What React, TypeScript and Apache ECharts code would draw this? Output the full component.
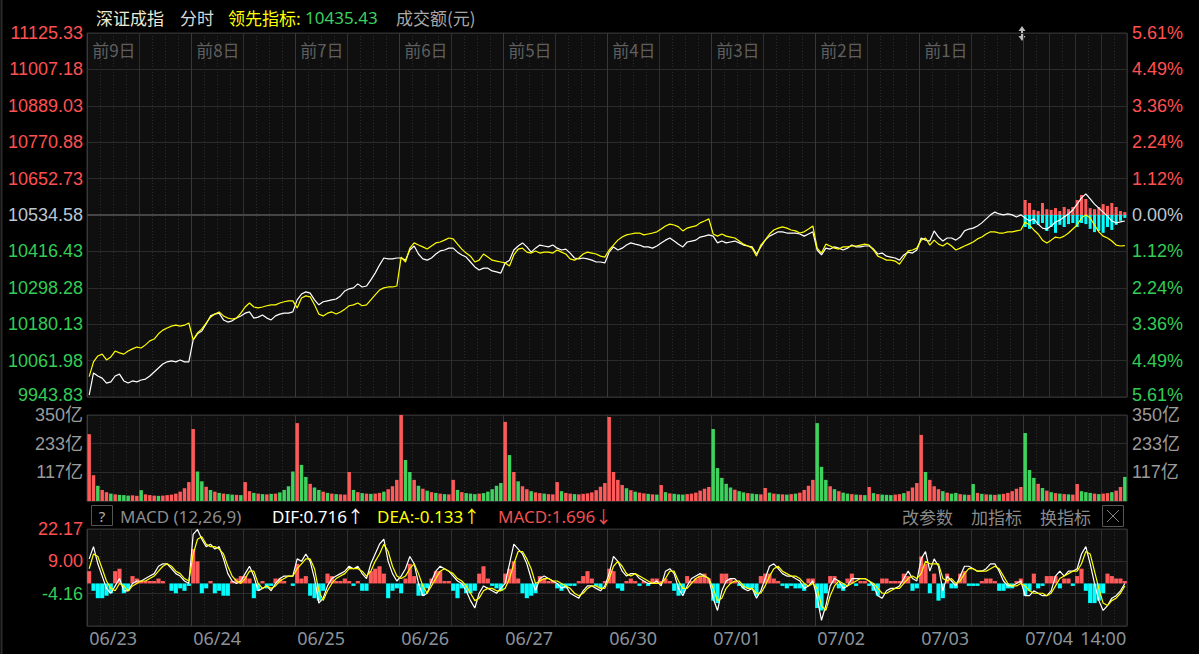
import React, { useEffect, useRef } from 'react';
import * as echarts from 'echarts';

// ---------------- data ----------------
const days = ['06/23', '06/24', '06/25', '06/26', '06/27', '06/30', '07/01', '07/02', '07/03', '07/04'];
const dayTags = ['前9日', '前8日', '前7日', '前6日', '前5日', '前4日', '前3日', '前2日', '前1日', ''];
const SLOTS = 24; // 10-minute samples per trading day
const todayTimeLabel = '14:00';
const todayTimeSlot = 18;

const prevClose = 10534.58;
const priceTicks = [9943.83, 10061.98, 10180.13, 10298.28, 10416.43, 10534.58, 10652.73, 10770.88, 10889.03, 11007.18, 11125.33];
const pctTicks = ['5.61%', '4.49%', '3.36%', '2.24%', '1.12%', '0.00%', '1.12%', '2.24%', '3.36%', '4.49%', '5.61%'];
const volTickValues = [0, 350 / 3, 700 / 3, 350];
const volTickLabels = ['', '117亿', '233亿', '350亿'];
const macdTickValues = [-17.33, -4.16, 9.0, 22.17];
const macdTickLabels = ['', '-4.16', '9.00', '22.17'];

// 深证成指 (white)
const indexLine: number[][] = [
  [9950, 10022, 10012, 10005, 9989, 9993, 10012, 10018, 9996, 9989, 9996, 9993, 9999, 10002, 10012, 10025, 10038, 10051, 10058, 10061, 10058, 10064, 10058, 10058],
  [10129, 10149, 10158, 10181, 10207, 10213, 10216, 10194, 10187, 10191, 10200, 10207, 10216, 10220, 10200, 10203, 10210, 10200, 10194, 10207, 10213, 10216, 10216, 10220],
  [10259, 10278, 10285, 10281, 10259, 10243, 10253, 10256, 10259, 10262, 10272, 10288, 10295, 10298, 10311, 10301, 10304, 10324, 10346, 10372, 10395, 10392, 10392, 10395],
  [10395, 10388, 10421, 10434, 10408, 10392, 10388, 10395, 10408, 10418, 10421, 10427, 10427, 10414, 10405, 10398, 10382, 10366, 10356, 10362, 10362, 10353, 10350, 10346],
  [10379, 10388, 10421, 10434, 10444, 10431, 10414, 10427, 10437, 10434, 10431, 10437, 10427, 10421, 10424, 10411, 10395, 10392, 10395, 10392, 10388, 10382, 10382, 10379],
  [10414, 10431, 10421, 10427, 10437, 10444, 10440, 10437, 10431, 10431, 10427, 10434, 10444, 10453, 10460, 10450, 10440, 10431, 10447, 10450, 10453, 10463, 10466, 10470],
  [10466, 10444, 10450, 10444, 10447, 10450, 10444, 10437, 10434, 10431, 10408, 10431, 10453, 10466, 10473, 10480, 10480, 10476, 10476, 10476, 10473, 10466, 10473, 10480],
  [10421, 10405, 10427, 10424, 10431, 10427, 10421, 10427, 10437, 10431, 10431, 10434, 10434, 10424, 10408, 10411, 10401, 10398, 10395, 10388, 10405, 10414, 10411, 10421],
  [10460, 10453, 10450, 10483, 10463, 10450, 10460, 10460, 10453, 10463, 10483, 10489, 10492, 10499, 10509, 10522, 10535, 10544, 10538, 10535, 10538, 10535, 10528, 10535],
  [10525, 10515, 10522, 10505, 10492, 10489, 10499, 10512, 10518, 10528, 10538, 10551, 10570, 10590, 10603, 10587, 10570, 10557, 10544, 10531, 10515, 10509, 10512, 10515],
];

// 领先指标 (yellow)
const leadLine: number[][] = [
  [10010, 10058, 10077, 10083, 10064, 10074, 10093, 10087, 10083, 10093, 10100, 10106, 10103, 10113, 10126, 10132, 10149, 10161, 10168, 10174, 10177, 10174, 10177, 10184],
  [10129, 10152, 10165, 10184, 10203, 10213, 10220, 10207, 10200, 10197, 10200, 10216, 10236, 10249, 10236, 10233, 10236, 10240, 10243, 10243, 10249, 10253, 10256, 10256],
  [10233, 10265, 10272, 10269, 10243, 10213, 10207, 10216, 10220, 10213, 10220, 10229, 10240, 10243, 10249, 10240, 10243, 10259, 10275, 10291, 10298, 10301, 10301, 10304],
  [10398, 10382, 10427, 10444, 10437, 10431, 10424, 10434, 10444, 10447, 10453, 10460, 10457, 10440, 10424, 10411, 10401, 10382, 10388, 10408, 10398, 10388, 10385, 10382],
  [10379, 10369, 10405, 10424, 10427, 10414, 10411, 10418, 10411, 10414, 10414, 10411, 10421, 10414, 10408, 10392, 10388, 10395, 10408, 10414, 10411, 10408, 10401, 10398],
  [10421, 10437, 10453, 10463, 10470, 10473, 10476, 10476, 10470, 10473, 10476, 10480, 10489, 10499, 10505, 10502, 10496, 10483, 10492, 10496, 10499, 10509, 10515, 10522],
  [10473, 10466, 10473, 10466, 10463, 10460, 10450, 10440, 10434, 10427, 10401, 10437, 10453, 10473, 10486, 10492, 10496, 10492, 10486, 10483, 10476, 10480, 10489, 10499],
  [10427, 10411, 10440, 10434, 10427, 10424, 10431, 10431, 10434, 10434, 10437, 10440, 10437, 10421, 10401, 10395, 10388, 10388, 10385, 10375, 10395, 10418, 10421, 10427],
  [10453, 10460, 10437, 10453, 10440, 10434, 10444, 10434, 10421, 10427, 10434, 10440, 10447, 10457, 10463, 10473, 10480, 10480, 10476, 10476, 10480, 10480, 10483, 10486],
  [10512, 10502, 10486, 10473, 10453, 10444, 10453, 10463, 10460, 10466, 10476, 10489, 10502, 10525, 10535, 10525, 10502, 10480, 10466, 10460, 10450, 10437, 10434, 10435],
];

// today's red / cyan breadth bars around the 0% line
const todayUp = [4.1, 3.3, 1.4, 1.1, 3.3, 1.6, 1.4, 1.9, 1.1, 2.2, 1.6, 2.2, 4.1, 5.5, 4.4, 1.9, 1.6, 2.2, 3.0, 2.5, 3.3, 2.2, 1.1, 0.8];
const todayDown = [3.3, 3.8, 2.5, 2.7, 2.2, 4.4, 3.3, 4.9, 2.7, 3.3, 2.5, 2.2, 3.3, 2.2, 2.5, 3.8, 4.7, 4.4, 4.9, 3.3, 4.1, 2.7, 1.6, 0.8];

// 成交额 (亿)
const volume: number[][] = [
  [272, 105, 62, 45, 36, 30, 27, 25, 24, 22, 23, 21, 44, 27, 24, 22, 21, 22, 24, 26, 30, 38, 52, 77],
  [293, 120, 80, 58, 45, 38, 33, 30, 28, 26, 25, 24, 77, 40, 33, 30, 28, 27, 29, 30, 35, 45, 60, 120],
  [317, 147, 98, 70, 55, 45, 38, 33, 30, 28, 27, 26, 118, 45, 36, 32, 30, 29, 30, 33, 38, 48, 60, 86],
  [350, 167, 118, 86, 62, 50, 42, 36, 33, 30, 28, 27, 86, 45, 36, 32, 30, 28, 30, 32, 38, 48, 62, 73],
  [322, 187, 118, 80, 60, 48, 40, 35, 32, 30, 28, 27, 77, 40, 33, 30, 28, 27, 29, 31, 35, 44, 58, 73],
  [342, 118, 86, 65, 52, 44, 38, 34, 31, 29, 27, 26, 65, 36, 31, 29, 27, 26, 28, 30, 34, 42, 50, 57],
  [293, 134, 94, 70, 55, 46, 40, 35, 32, 30, 28, 27, 53, 34, 30, 28, 27, 26, 28, 30, 34, 45, 62, 86],
  [317, 139, 86, 60, 48, 40, 34, 30, 28, 26, 25, 24, 57, 32, 28, 26, 25, 24, 26, 28, 32, 40, 55, 73],
  [269, 118, 86, 60, 48, 40, 34, 30, 33, 28, 26, 25, 69, 33, 29, 27, 26, 25, 27, 29, 33, 40, 50, 57],
  [277, 126, 94, 70, 53, 42, 36, 32, 30, 28, 27, 26, 69, 40, 36, 33, 30, 28, 30, 32, 36, 42, 57, 98],
];
const volumeSide = [
  'rrgrrgrgggrrgrrrgrrrrrrr',
  'rggrgrgrggrgrrgrgrgrgggg',
  'rggrggrgrgrrrgrgrgrrgrrr',
  'rggrgrgrgrgrrgrgggrggggg',
  'rgrgrrgrrgrrrgrrgrrrrrrr',
  'rrrrgrgrrgrgrgrgggrrrrrr',
  'gggggrggrggrrgrgrgrgrrrr',
  'gggrgrggrgrgrgrgggrrgrrr',
  'rgrrrgrggrgrgrgrgrgrrrrr',
  'gggrgrgrgrgrrgggrgrrgrrg',
];

// MACD (12,26,9)
const dif: number[][] = [
  [10, 15, 8, 3, -2, -4, -1, 2, -3, -3, 0, 1, 1, 2, 3, 4, 7, 8, 8, 6, 4, 3, 1, 0],
  [20, 22, 18, 15, 16, 14, 15, 10, 4, 1, 0, 1, 4, 7, 3, -3, -2, -1, -3, 0, 2, 3, 3, 3],
  [10, 9, 12, 9, 2, -8, -6, -1, 2, 3, 4, 5, 7, 6, 7, 4, 2, 8, 12, 16, 18, 9, 4, 1],
  [3, 6, 11, 8, 0, -5, -4, 1, 5, 7, 6, 5, 3, 1, 0, -3, -7, -10, -4, -1, -2, -3, -4, -2],
  [0, 8, 16, 14, 12, 8, 2, -3, 2, 3, 2, 1, 0, -2, -1, -4, -5, -6, -3, -1, -1, -2, -3, -1],
  [4, 11, 9, 5, 3, 4, 4, 2, 1, 0, 0, 1, -1, 5, 6, 4, -2, -5, -1, 2, 3, 4, 3, 2],
  [-6, -11, -3, 1, 2, 2, 0, -2, -3, -2, -6, -3, 2, 7, 8, 6, 4, 3, 3, 2, 1, -2, -1, 1],
  [-6, -15, -9, -1, 2, 1, -2, -1, 2, 2, 2, 2, 1, -1, -5, -6, -3, -2, -2, -1, 2, 5, 2, 1],
  [10, 13, 5, 10, 7, -3, 3, 1, -1, 3, 7, 7, 6, 5, 5, 6, 8, 8, 5, 1, -1, -1, 0, 1],
  [-5, -5, -3, -4, -5, -5, -3, 3, 5, 3, 5, 5, 6, 12, 15, 8, 0, -7, -11, -9, -6, -5, -3, 0],
];
const dea: number[][] = [
  [6, 12, 11, 6, 1, -2, -3, 0, -1, -3, -1, 0, 1, 1, 2, 3, 5, 7, 8, 7, 5, 4, 2, 1],
  [12, 18, 19, 16, 15, 15, 14, 12, 7, 3, 1, 0, 2, 5, 5, 0, -2, -1, -2, -1, 1, 2, 3, 3],
  [6, 8, 10, 10, 6, -3, -7, -3, 0, 2, 3, 4, 6, 6, 6, 5, 3, 5, 9, 12, 16, 13, 7, 3],
  [2, 3, 6, 8, 4, -1, -4, -1, 2, 5, 6, 5, 4, 2, 1, -1, -4, -7, -6, -3, -2, -2, -3, -3],
  [-2, 2, 8, 13, 13, 10, 6, 0, 1, 2, 2, 1, 1, 0, -1, -2, -4, -5, -4, -2, -1, -1, -2, -2],
  [2, 7, 9, 7, 4, 3, 4, 3, 2, 1, 0, 0, 0, 2, 5, 5, 1, -2, -2, 0, 2, 3, 3, 2],
  [-2, -7, -6, -2, 0, 1, 1, -1, -2, -2, -4, -4, -1, 3, 6, 7, 5, 4, 3, 3, 2, 0, -1, 0],
  [-2, -9, -11, -5, -1, 1, 0, -1, 0, 1, 2, 2, 1, 0, -2, -4, -4, -3, -2, -2, 0, 2, 3, 2],
  [4, 9, 8, 8, 8, 2, 1, 2, 0, 1, 4, 6, 6, 5, 5, 5, 6, 7, 6, 3, 0, -1, -1, 0],
  [-1, -3, -4, -4, -4, -5, -4, -1, 2, 3, 4, 5, 5, 8, 13, 12, 5, -2, -8, -9, -7, -6, -4, -1],
];
const macdHist: number[][] = [
  [5, -3, -6, -6, -5, -4, 5, 6, -4, -3, 3, 2, 1, 1, 1, 1, 2, 1, 0, -3, -4, -2, -3, -1],
  [14, 9, -4, -2, 1, -4, -3, -5, -5, 1, 2, 3, 3, 2, -6, -3, 1, -2, -1, 2, 2, 1, 0, -1],
  [8, 2, 3, -5, -6, -7, -3, 4, 3, 1, 1, 2, 1, -1, 1, -3, -3, 5, 6, 7, 4, -6, -3, -2],
  [-4, 2, 8, 3, -5, -5, -2, 2, 5, 5, 1, 1, -3, -6, -2, -4, -4, -3, 4, 7, 2, -1, -2, -3],
  [4, 6, 9, 2, -4, -6, -5, -4, 3, 2, 1, 1, -2, -3, -2, -1, -1, 1, 3, 5, 2, -1, -2, 1],
  [6, 5, -2, -3, 1, 2, 1, -1, 1, -1, 2, 2, 1, 2, 1, -3, -5, -4, 3, 1, 2, 3, 4, 2],
  [-7, -8, 4, 4, 2, 1, -1, -2, -2, -2, -5, 3, 4, 4, 2, 1, -1, -2, -1, -2, -2, -3, 2, 2],
  [-10, -11, -4, 3, 3, -2, -3, 2, 4, -1, 1, 1, -1, -3, -5, 2, 2, 1, 1, 1, 4, 3, -3, -2],
  [11, 8, -4, 4, -7, -6, 4, -2, -2, 4, 5, -1, -1, -1, 1, 2, 2, 1, -3, -3, -2, -2, 1, 2],
  [-5, -3, 4, -2, -1, 3, 3, 3, -2, 2, 2, -1, 3, 6, -3, -8, -8, -7, -4, 4, 3, 2, 2, 1],
];

const titleParts = [
  { text: '深证成指', color: '#ecead2' },
  { text: '分时', color: '#d8d8d8' },
  { text: '领先指标:', color: '#ffff00' },
  { text: '10435.43', color: '#3ccf5c' },
  { text: '成交额(元)', color: '#a8a8a8' },
];
const macdInfo = { name: 'MACD (12,26,9)', dif: 'DIF:0.716↑', dea: 'DEA:-0.133↑', macd: 'MACD:1.696↓' };
const toolButtons = ['改参数', '加指标', '换指标'];

// ---------------- styles ----------------
const FONT = '"Noto Sans", "Noto Sans CJK SC", sans-serif';
const NUM = '"Liberation Sans", "Noto Sans CJK SC", sans-serif';
const CJK = '"Noto Sans CJK SC", "Noto Sans", sans-serif';
const RED = '#ff5050';
const RED_BAR = '#ff5a5a';
const GREEN = '#33cc55';
const GREEN_BAR = '#3ed35e';
const CYAN = '#00ffff';
const BASE_TXT = '#bcc6d0';

const nearest = (arr: number[], v: number) => {
  let bi = 0;
  arr.forEach((a, i) => {
    if (Math.abs(a - v) < Math.abs(arr[bi] - v)) bi = i;
  });
  return bi;
};

function buildOption() {
  const nDays = days.length;
  const cats = days.flatMap((d) => Array.from({ length: SLOTS }, (_, j) => `${d}-${j}`));
  const lastDay = nDays - 1;

  const isDay = (i: number) => i % SLOTS === 0;
  const isMid = (i: number) => {
    const d = Math.floor(i / SLOTS);
    const j = i % SLOTS;
    if (j === 0) return false;
    return d === lastDay ? j % 6 === 0 : j === SLOTS / 2;
  };
  const isDot = (i: number) => i % 3 === 0 && !isDay(i) && !isMid(i);

  const lineStyles: any = {
    day: { color: '#383838', width: 1 },
    mid: { color: '#2e2e2e', width: 1 },
    dot: { color: '#2c2c2c', width: 1, type: [1, 2] },
  };
  const fns: any = { day: isDay, mid: isMid, dot: isDot };

  const mkX = (grid: number, kind: string, extra: any = {}) => ({
    type: 'category',
    gridIndex: grid,
    data: cats,
    boundaryGap: true,
    position: 'bottom',
    axisLine: { show: false },
    axisTick: { show: false },
    axisLabel: { show: false },
    splitLine: { show: true, interval: fns[kind], lineStyle: lineStyles[kind] },
    ...extra,
  });

  const xAxis = [
    mkX(0, 'day', {
      position: 'top',
      axisLabel: {
        show: true,
        inside: true,
        interval: (i: number) => i % SLOTS === 0 && dayTags[Math.floor(i / SLOTS)] !== '',
        formatter: (_v: string, i: number) => dayTags[Math.floor(i / SLOTS)],
        align: 'left',
        color: '#5f5f5f',
        fontSize: 17,
        fontFamily: CJK,
        margin: 8,
        padding: [0, 0, 0, 3],
      },
    }),
    mkX(0, 'mid'),
    mkX(0, 'dot'),
    mkX(1, 'day'),
    mkX(1, 'mid'),
    mkX(1, 'dot'),
    mkX(2, 'day', {
      axisLabel: {
        show: true,
        interval: (i: number) => i % SLOTS === 0,
        formatter: (_v: string, i: number) => days[Math.floor(i / SLOTS)],
        align: 'left',
        color: '#8b939b',
        fontSize: 18,
        fontFamily: FONT,
        margin: 3,
      },
    }),
    mkX(2, 'mid', {
      axisLabel: {
        show: true,
        interval: (i: number) => i === lastDay * SLOTS + todayTimeSlot,
        formatter: () => todayTimeLabel,
        align: 'center',
        color: '#8b939b',
        fontSize: 18,
        fontFamily: FONT,
        margin: 3,
      },
    }),
    mkX(2, 'dot'),
  ];

  const priceColor = (v: any) => {
    const i = nearest(priceTicks, Number(v));
    return i > 5 ? RED : i < 5 ? GREEN : BASE_TXT;
  };
  const hSplit = { show: true, lineStyle: { color: '#2b2b2b', width: 1 } };
  const noAxis = { axisLine: { show: false }, axisTick: { show: false } };
  const priceInterval = priceTicks[1] - priceTicks[0];
  const lbl = { fontSize: 18, fontFamily: NUM };
  // the lowest price label sits a touch above its grid line (as in the reference)
  const lowRich = { lo: { padding: [0, 0, 4, 0], fontSize: 18, fontFamily: NUM } };
  const priceText = (arr: string[]) => (v: number) => {
    const i = nearest(priceTicks, v);
    return i === 0 ? `{lo|${arr[i]}}` : arr[i];
  };
  const priceStr = priceTicks.map((p) => p.toFixed(2));

  const yAxis: any[] = [
    {
      type: 'value', gridIndex: 0, position: 'left', min: priceTicks[0], max: priceTicks[priceTicks.length - 1],
      interval: priceInterval, ...noAxis, splitLine: hSplit,
      axisLabel: { ...lbl, margin: 4, formatter: priceText(priceStr), color: priceColor, rich: lowRich },
    },
    {
      type: 'value', gridIndex: 0, position: 'right', min: priceTicks[0], max: priceTicks[priceTicks.length - 1],
      interval: priceInterval, ...noAxis, splitLine: { show: false },
      axisLabel: { ...lbl, margin: 5, formatter: priceText(pctTicks), color: priceColor, rich: lowRich },
    },
    { type: 'value', gridIndex: 0, min: -50, max: 50, show: false },
    {
      type: 'value', gridIndex: 1, position: 'left', min: 0, max: 350, interval: 350 / 3, ...noAxis, splitLine: hSplit,
      axisLabel: { ...lbl, margin: 4, padding: [4, 0, 0, 0], color: '#9a9a9a', formatter: (v: number) => volTickLabels[nearest(volTickValues, v)] },
    },
    {
      type: 'value', gridIndex: 1, position: 'right', min: 0, max: 350, interval: 350 / 3, ...noAxis, splitLine: { show: false },
      axisLabel: { ...lbl, margin: 5, padding: [4, 0, 0, 0], color: '#9a9a9a', formatter: (v: number) => volTickLabels[nearest(volTickValues, v)] },
    },
    {
      type: 'value', gridIndex: 2, position: 'left', min: macdTickValues[0], max: macdTickValues[3],
      interval: macdTickValues[1] - macdTickValues[0], ...noAxis, splitLine: hSplit,
      axisLabel: {
        ...lbl, margin: 4,
        formatter: (v: number) => macdTickLabels[nearest(macdTickValues, v)],
        color: (v: any) => (Number(v) > 0 ? RED : GREEN),
      },
    },
  ];

  const gridCommon = { left: 87, right: 72, show: true, backgroundColor: '#0f0f0f', borderColor: '#333', borderWidth: 1 };
  const grid = [
    { ...gridCommon, top: 33, height: 364 },
    { ...gridCommon, top: 415, height: 86 },
    { ...gridCommon, top: 529, height: 97 },
  ];

  const todayMask = (arr: number[], sign: number) =>
    cats.map((_, i) => (Math.floor(i / SLOTS) === lastDay ? sign * arr[i % SLOTS] : '-'));

  const sides = volumeSide.join('');
  const volData = volume.flat().map((v, i) => ({ value: v, itemStyle: { color: sides[i] === 'r' ? RED_BAR : GREEN_BAR } }));
  const histData = macdHist.flat().map((v) => ({ value: v, itemStyle: { color: v >= 0 ? RED_BAR : CYAN } }));

  const series: any[] = [
    { type: 'bar', name: 'up', xAxisIndex: 0, yAxisIndex: 2, data: todayMask(todayUp, 1), barWidth: 3, barGap: '-100%', itemStyle: { color: RED_BAR }, z: 2 },
    { type: 'bar', name: 'down', xAxisIndex: 0, yAxisIndex: 2, data: todayMask(todayDown, -1), barWidth: 3, barGap: '-100%', itemStyle: { color: CYAN }, z: 2 },
    {
      type: 'line', name: '深证成指', xAxisIndex: 0, yAxisIndex: 0, data: indexLine.flat(), symbol: 'none',
      lineStyle: { color: '#ffffff', width: 1.2 }, z: 4,
      markLine: {
        silent: true, symbol: ['none', 'none'], label: { show: false },
        lineStyle: { color: '#454545', width: 2, type: 'solid' },
        data: [{ yAxis: prevClose }], z: 1,
      },
    },
    { type: 'line', name: '领先指标', xAxisIndex: 0, yAxisIndex: 0, data: leadLine.flat(), symbol: 'none', lineStyle: { color: '#ffff00', width: 1.2 }, z: 5 },
    { type: 'bar', name: '成交额', xAxisIndex: 3, yAxisIndex: 3, data: volData, barCategoryGap: '20%' },
    { type: 'bar', name: 'MACD', xAxisIndex: 6, yAxisIndex: 5, data: histData, barCategoryGap: '5%' },
    { type: 'line', name: 'DIF', xAxisIndex: 6, yAxisIndex: 5, data: dif.flat(), symbol: 'none', lineStyle: { color: '#ffffff', width: 1.2 }, z: 4 },
    { type: 'line', name: 'DEA', xAxisIndex: 6, yAxisIndex: 5, data: dea.flat(), symbol: 'none', lineStyle: { color: '#ffff00', width: 1.2 }, z: 5 },
  ];

  const txt = (x: number, y: number, text: string, fill: string, size = 17, align = 'left', family = CJK) => ({
    type: 'text', x, y, silent: true,
    style: { text, fill, font: `${size}px ${family}`, align, verticalAlign: 'middle' },
  });

  const titleX = [96, 180, 228, 305, 396];
  const graphic: any[] = [
    { type: 'line', shape: { x1: 1.5, y1: 0, x2: 1.5, y2: 654 }, style: { stroke: '#2a2a2a', lineWidth: 2 } },
    ...titleParts.map((p, i) => txt(titleX[i], 17, p.text, p.color, 17, 'left', i === 3 ? FONT : CJK)),
    // MACD header
    { type: 'rect', shape: { x: 91.5, y: 505.5, width: 21, height: 20 }, style: { fill: 'none', stroke: '#555', lineWidth: 1 } },
    txt(102, 516, '?', '#b0b0b0', 15, 'center', FONT),
    txt(120, 516, macdInfo.name, '#8c8c8c', 17, 'left', FONT),
    txt(272, 516, macdInfo.dif, '#ffffff', 17, 'left', FONT),
    txt(377, 516, macdInfo.dea, '#ffff00', 17, 'left', FONT),
    txt(498, 516, macdInfo.macd, '#ee5050', 17, 'left', FONT),
    ...toolButtons.map((b, i) => txt(902 + i * 69, 516, b, '#8a8a8a', 17, 'left', CJK)),
    { type: 'rect', shape: { x: 1102.5, y: 505.5, width: 21, height: 21 }, style: { fill: 'none', stroke: '#555', lineWidth: 1 } },
    { type: 'line', shape: { x1: 1107, y1: 510, x2: 1119, y2: 522 }, style: { stroke: '#808080', lineWidth: 1 } },
    { type: 'line', shape: { x1: 1119, y1: 510, x2: 1107, y2: 522 }, style: { stroke: '#808080', lineWidth: 1 } },
    // drag handle on today's boundary
    { type: 'polygon', shape: { points: [[1018.5, 31], [1025.5, 31], [1022, 26]] }, style: { fill: '#bdbdbd' } },
    { type: 'polygon', shape: { points: [[1018.5, 36], [1025.5, 36], [1022, 41]] }, style: { fill: '#bdbdbd' } },
    { type: 'rect', shape: { x: 1021, y: 30, width: 2, height: 7 }, style: { fill: '#bdbdbd' } },
  ];

  return {
    animation: false,
    backgroundColor: '#000000',
    grid,
    xAxis,
    yAxis,
    series,
    graphic,
  };
}

export default function App() {
  const ref = useRef<HTMLDivElement>(null);
  useEffect(() => {
    document.body.style.margin = '0';
    document.body.style.background = '#000';
    const chart = echarts.init(ref.current as HTMLDivElement, null, { renderer: 'svg' });
    chart.setOption(buildOption() as any);
    return () => chart.dispose();
  }, []);
  return <div ref={ref} style={{ position: 'fixed', left: 0, top: 0, width: 1199, height: 654, background: '#000' }} />;
}
